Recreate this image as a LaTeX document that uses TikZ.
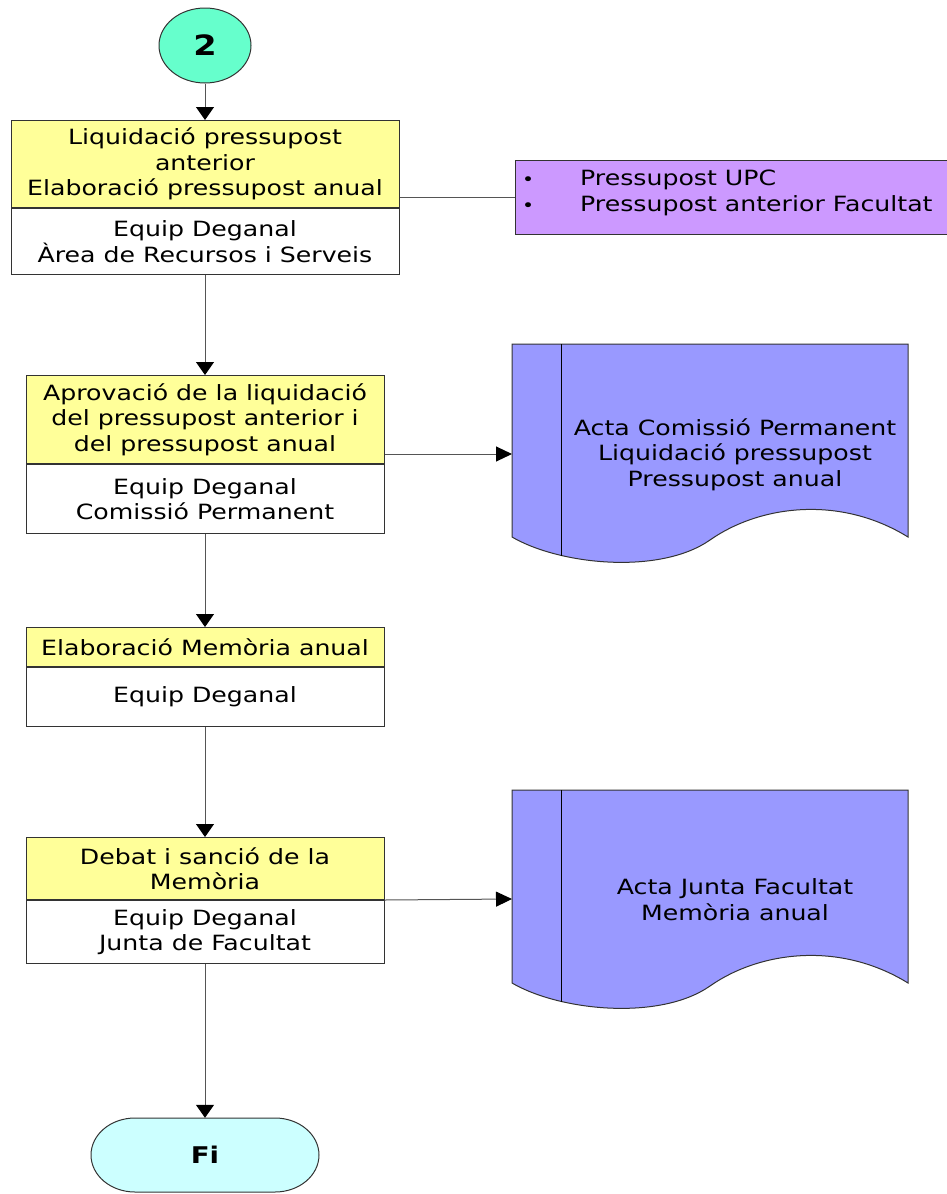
\documentclass[tikz,border=0pt]{standalone}
\usepackage{fontspec}
\setmainfont{DejaVu Sans}[FakeStretch=1.2]
\usetikzlibrary{arrows.meta,shapes.geometric}

\definecolor{startgreen}{HTML}{66FFCC}
\definecolor{taskyellow}{HTML}{FFFF99}
\definecolor{inputlilac}{HTML}{CC99FF}
\definecolor{docblue}{HTML}{9999FF}
\definecolor{endcyan}{HTML}{CCFFFF}
\definecolor{wire}{HTML}{555555}
\definecolor{edge}{HTML}{333333}

\begin{document}
\begin{tikzpicture}[x=1pt,y=-1pt,
  font=\fontsize{21}{25.5}\selectfont,
  head/.style={draw=edge,line width=1pt,fill=taskyellow,align=center,inner sep=0pt,anchor=north},
  actor/.style={draw=edge,line width=1pt,fill=white,align=center,inner sep=0pt,anchor=north},
  flow/.style={draw=wire,line width=1pt,-{Triangle[width=18pt,length=13pt,color=black]}},
  sideflow/.style={draw=wire,line width=1pt,-{Triangle[width=15pt,length=16pt,color=black]}},
  plainwire/.style={draw=wire,line width=1pt},
  docsheet/.pic={
    \path[draw=edge,line width=1pt,fill=docblue]
      (0,0) -- (396,0) -- (396,193)
      .. controls (328,151) and (248,161) .. (198,196)
      .. controls (148,231) and (48,221) .. (0,193) -- cycle;
    \draw[black,line width=0.8pt] (49,0) -- (49,212);
  }]
\useasboundingbox (0,0) rectangle (947,1194);
\clip (0,0) rectangle (947,1194);

% start connector
\node[ellipse,draw=edge,line width=1pt,fill=startgreen,minimum width=92pt,minimum height=75pt,
      inner sep=0pt,font=\fontsize{28}{30}\selectfont\bfseries] (start) at (205,45.5) {2};

% step 1
\node[head,minimum width=388pt,minimum height=87pt] (t1) at (205,120)
  {Liquidació pressupost\\anterior\\Elaboració pressupost anual};
\node[actor,minimum width=388pt,minimum height=66pt] (a1) at (t1.south)
  {Equip Deganal\\Àrea de Recursos i Serveis};

% inputs
\node[draw=edge,line width=1pt,fill=inputlilac,minimum width=440pt,minimum height=74pt,
      inner sep=0pt,anchor=west] (inp) at (515,197) {};
\node[anchor=west,align=left,inner sep=0pt] (inptext) at (522,193)
  {\makebox[58pt][l]{\fontsize{17}{17}\selectfont•}Pressupost UPC\\\makebox[58pt][l]{\fontsize{17}{17}\selectfont•}Pressupost anterior Facultat};

% step 2
\node[head,minimum width=358pt,minimum height=88pt] (t2) at (205,375)
  {Aprovació de la liquidació\\del pressupost anterior i\\del pressupost anual};
\node[actor,minimum width=358pt,minimum height=69pt] (a2) at (t2.south)
  {Equip Deganal\\Comissió Permanent};

% step 3
\node[head,minimum width=358pt,minimum height=39pt] (t3) at (205,627)
  {Elaboració Memòria anual};
\node[actor,minimum width=358pt,minimum height=59pt] (a3) at (t3.south)
  {Equip Deganal};

% step 4
\node[head,minimum width=358pt,minimum height=62pt] (t4) at (205,837)
  {Debat i sanció de la\\Memòria};
\node[actor,minimum width=358pt,minimum height=63pt] (a4) at (t4.south)
  {Equip Deganal\\Junta de Facultat};

% documents
\pic at (512,344) {docsheet};
\pic at (512,790) {docsheet};
\node[align=center,inner sep=0pt] (doc1) at (735,454.5)
  {Acta Comissió Permanent\\Liquidació pressupost\\Pressupost anual};
\node[align=center,inner sep=0pt] (doc2) at (735,899.5)
  {Acta Junta Facultat\\Memòria anual};
\coordinate (d1in) at (512,454);
\coordinate (d2in) at (512,899);

% end terminator
\path[draw=edge,line width=1pt,fill=endcyan]
  (135,1118) -- (275,1118) arc[start angle=90,end angle=-90,x radius=44pt,y radius=37pt]
  -- (135,1192) arc[start angle=270,end angle=90,x radius=44pt,y radius=37pt] -- cycle;
\node[minimum width=228pt,minimum height=74pt,inner sep=0pt,
      font=\fontsize{23}{25}\selectfont\bfseries] (fi) at (205,1155) {Fi};

% connectors
\draw[flow] (start) -- (t1);
\draw[plainwire] (t1.east |- inp.west) -- (inp.west);
\draw[flow] (a1) -- (t2);
\draw[sideflow] (t2.east |- d1in) -- (d1in);
\draw[flow] (a2) -- (t3);
\draw[flow] (a3) -- (t4);
\draw[sideflow] (a4.north east) -- (d2in);
\draw[flow] (a4) -- (fi);
\end{tikzpicture}
\end{document}
